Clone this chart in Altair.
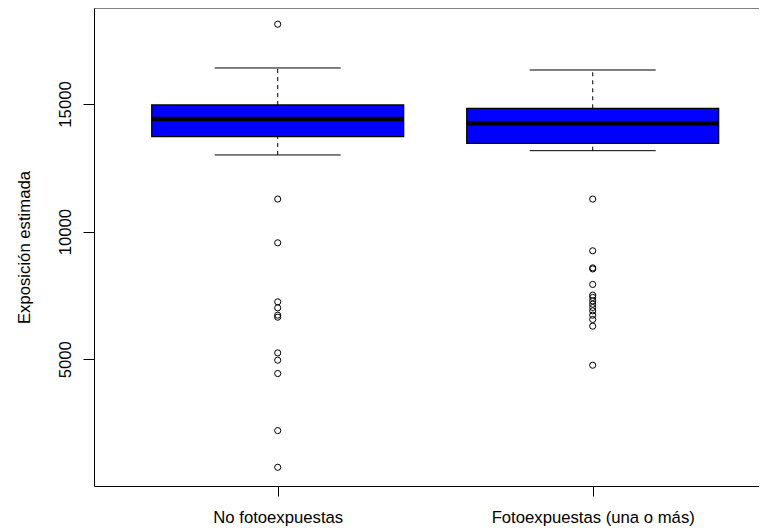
import altair as alt
import pandas as pd

# ---- data ----
groups = ["No fotoexpuestas", "Fotoexpuestas (una o más)"]
positions = [1, 2]
q1 = [13718, 13459]
median = [14412, 14243]
q3 = [14961, 14831]
whisker_low = [13003, 13171]
whisker_high = [16410, 16331]
outliers_no = [18124, 11276, 9563, 7250, 7015, 6729, 6650, 5251, 4965, 4443, 2209, 770]
outliers_foto = [11276, 9250, 8580, 8540, 7932, 7513, 7422, 7289, 7160, 7030,
                 6897, 6729, 6560, 6298, 4769]
y_ticks = [5000, 10000, 15000]

box_half = 0.4
cap_half = 0.2

box_df = pd.DataFrame({
    "group": groups,
    "pos": positions,
    "q1": q1,
    "median": median,
    "q3": q3,
    "wlo": whisker_low,
    "whi": whisker_high,
})
box_df["left"] = box_df["pos"] - box_half
box_df["right"] = box_df["pos"] + box_half
box_df["cap_l"] = box_df["pos"] - cap_half
box_df["cap_r"] = box_df["pos"] + cap_half

out_rows = [{"pos": positions[0], "value": v} for v in outliers_no] + \
           [{"pos": positions[1], "value": v} for v in outliers_foto]
out_df = pd.DataFrame(out_rows)

FONT = "Liberation Sans"
FS = 16.7

label_expr = " : ".join(
    [f"datum.value == {p} ? '{g}'" for p, g in zip(positions, groups)]
) + " : ''"

W = 665
xs = alt.Scale(domain=[0.4168, 0.4168 + W / 315.0], nice=False, zero=False)
ys = alt.Scale(domain=[38, 18759], nice=False, zero=False)

xaxis = alt.Axis(values=positions, labelExpr=label_expr, title=None, grid=False,
                 tickSize=10, labelPadding=26, labelBaseline="alphabetic",
                 labelFont=FONT, labelFontSize=FS, labelColor="black", labelLimit=400,
                 domainColor="black", tickColor="black", labelFlush=False)
yaxis = alt.Axis(values=y_ticks, format="d", grid=False, tickSize=11,
                 labelAngle=270, labelAlign="center", labelBaseline="alphabetic",
                 labelPadding=13, labelFont=FONT, labelFontSize=FS, labelColor="black",
                 domainColor="black", tickColor="black",
                 title="Exposición estimada", titleFont=FONT, titleFontSize=FS,
                 titleFontWeight="normal", titleColor="black", titleAngle=270,
                 titleX=-65, titleY=239, titleAlign="center", titleBaseline="alphabetic")


def X(f):
    return alt.X(f, type="quantitative", scale=xs, axis=xaxis)


def Y(f):
    return alt.Y(f, type="quantitative", scale=ys, axis=yaxis)


base = alt.Chart(box_df)

whisk_up = base.mark_rule(color="black", strokeWidth=1, strokeDash=[4, 4]).encode(
    x=X("pos"), y=Y("q3"), y2="whi")
whisk_dn = base.mark_rule(color="black", strokeWidth=1, strokeDash=[4, 4]).encode(
    x=X("pos"), y=Y("wlo"), y2="q1")
cap_up = base.mark_rule(color="black", strokeWidth=1).encode(
    x=X("cap_l"), x2="cap_r", y=Y("whi"))
cap_dn = base.mark_rule(color="black", strokeWidth=1).encode(
    x=X("cap_l"), x2="cap_r", y=Y("wlo"))
boxes = base.mark_rect(fill="#0000FF", stroke="black", strokeWidth=1.2).encode(
    x=X("left"), x2="right", y=Y("q1"), y2="q3")
med = base.mark_rule(color="black", strokeWidth=4.5).encode(
    x=X("left"), x2="right", y=Y("median"))
pts = alt.Chart(out_df).mark_point(shape="circle", filled=False, size=38,
                                    color="black", strokeWidth=1, opacity=1).encode(
    x=X("pos"), y=Y("value"))
top_frame = alt.Chart(pd.DataFrame({"a": [0]})).mark_rule(
    color="black", strokeWidth=1).encode(
    x=alt.value(0), x2=alt.value(W), y=alt.value(0))

chart = alt.layer(whisk_up, whisk_dn, cap_up, cap_dn, boxes, med, pts, top_frame).properties(
    width=W, height=478,
    autosize=alt.AutoSizeParams(type="none"),
    padding={"left": 86, "top": 0, "right": 0, "bottom": 42},
    background="white",
).configure_view(stroke="transparent")

chart.save("out.html", embed_options={"renderer": "svg", "actions": False})
